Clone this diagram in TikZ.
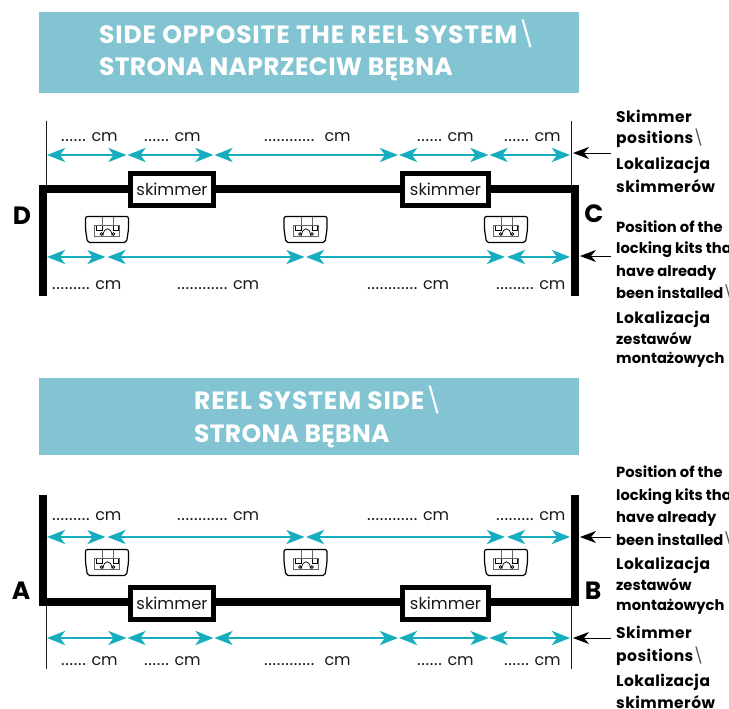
\documentclass[tikz,border=0pt]{standalone}
\usepackage{fontspec}
\setmainfont{Poppins}
\usetikzlibrary{arrows.meta}
\definecolor{banner}{HTML}{82C4D2}
\definecolor{teal}{HTML}{16AEBE}
\definecolor{ink}{HTML}{1A1A1A}
\newcommand{\slashmark}{{\mdseries\color{ink!75}\textbackslash}}
\newcommand{\slashwhite}{\hspace{1pt}{\mdseries\color{white}\textbackslash}}
\newcommand{\cmafter}[2][5.5pt]{{\addfontfeatures{LetterSpace=4}#2}\hspace{#1}{\fontsize{16}{16}\selectfont cm}}
\tikzset{
  x=1pt,y=-1pt,
  bannerbox/.style={fill=banner,draw=none,anchor=north west,inner sep=0pt},
  bannertext/.style={anchor=base west,inner sep=0pt,text=white,font=\fontsize{25}{25}\selectfont\bfseries\addfontfeatures{LetterSpace=3.4}},
  bannertight/.style={anchor=base west,inner sep=0pt,text=white,font=\fontsize{25}{25}\selectfont\bfseries\addfontfeatures{LetterSpace=1.2}},
  wall/.style={line width=8pt,line cap=butt,line join=miter,draw=black},
  tick/.style={line width=0.9pt,draw=ink},
  skim/.style={draw=black,line width=5pt,fill=white,minimum height=32pt,inner sep=0pt,font=\fontsize{16.4}{16}\selectfont,text=ink},
  dim/.style={teal,line width=2.8pt,{Stealth[length=18pt,width=14pt,inset=5pt]}-{Stealth[length=18pt,width=14pt,inset=5pt]}},
  pointer/.style={black,line width=0.9pt,-{Stealth[length=16pt,width=12pt,inset=5pt]}},
  measure/.style={anchor=base west,inner sep=0pt,text=ink,font=\fontsize{17}{17}\selectfont},
  note/.style={anchor=base west,inner sep=0pt,text=black,font=\fontsize{14.7}{15}\selectfont\bfseries},
  notewide/.style={anchor=base west,inner sep=0pt,text=black,font=\fontsize{15.5}{15}\selectfont\bfseries\addfontfeatures{LetterSpace=3}},
  corner/.style={anchor=base,inner sep=0pt,text=black,font=\fontsize{25}{25}\selectfont\bfseries},
  lockkit/.pic={
    \draw[black,line width=1.2pt,rounded corners=2pt] (0,0) -- (43,0) -- (43,13) -- (41,26) -- (2,26) -- (0,13) -- cycle;
    \draw[gray!80!black,line width=0.7pt] (9,9) rectangle (34,20);
    \draw[gray!80!black,line width=0.7pt] (17,0) -- (17,9) (28,0) -- (28,9);
    \draw[black,line width=0.7pt] (11,9) -- (11,14) -- (17,14) -- (17,9) (28,9) -- (28,14) -- (33,14) -- (33,9);
    \draw[black,line width=0.7pt] (17.5,19) .. controls (18,10) and (26,10) .. (26.5,19)
      (16,17.5) circle (1.4) (28,17.5) circle (1.4);
  }
}
\begin{document}
\begin{tikzpicture}
\useasboundingbox (0,0) rectangle (729,709);

% banners
\node[bannerbox,minimum width=540pt,minimum height=81pt] (bannerTop) at (39,12) {};
\node[bannerbox,minimum width=540pt,minimum height=77pt] (bannerBottom) at (39,378) {};
\node[bannertext] (titleTopA) at (99,44) {SIDE OPPOSITE THE REEL SYSTEM\slashwhite};
\node[bannertight] (titleTopB) at (99,76) {STRONA NAPRZECIW BĘBNA};
\node[bannertext] (titleBotA) at (194,409) {REEL SYSTEM SIDE\slashwhite};
\node[bannertight] (titleBotB) at (194,442) {STRONA BĘBNA};

% top plan: ticks, walls
\draw[tick] (46,121) coordinate (tickDtop) -- (46,186) coordinate (tickDbot);
\draw[tick] (571,121) coordinate (tickCtop) -- (571,186) coordinate (tickCbot);
\draw[wall] (43,296) coordinate (wallDend) -- (43,189) -- (575,189) -- (575,296) coordinate (wallCend);
\node[skim,minimum width=83pt] (skimTL) at (172,189.5) {skimmer};
\node[skim,minimum width=86pt] (skimTR) at (445.5,189.5) {skimmer};
\pic at (85.5,216.5) {lockkit};
\pic at (284,216.5) {lockkit};
\pic at (484.5,216.5) {lockkit};

% top dims
\coordinate (ua0) at (47,155);
\coordinate (ua1) at (126.5,155);
\coordinate (ua2) at (127.5,155);
\coordinate (ua3) at (213.5,155);
\coordinate (ua4) at (214.5,155);
\coordinate (ua5) at (398,155);
\coordinate (ua6) at (399,155);
\coordinate (ua7) at (488.5,155);
\coordinate (ua8) at (489.5,155);
\coordinate (ua9) at (570,155);
\draw[dim] (ua0) -- (ua1);
\draw[dim] (ua2) -- (ua3);
\draw[dim] (ua4) -- (ua5);
\draw[dim] (ua6) -- (ua7);
\draw[dim] (ua8) -- (ua9);
\coordinate (ub0) at (47,257);
\coordinate (ub1) at (105.5,257);
\coordinate (ub2) at (107.5,257);
\coordinate (ub3) at (304.5,257);
\coordinate (ub4) at (306,257);
\coordinate (ub5) at (505,257);
\coordinate (ub6) at (507,257);
\coordinate (ub7) at (570,257);
\draw[dim] (ub0) -- (ub1);
\draw[dim] (ub2) -- (ub3);
\draw[dim] (ub4) -- (ub5);
\draw[dim] (ub6) -- (ub7);

\node[measure] (m1) at (61,141) {\cmafter{......}};
\node[measure] (m2) at (144,141) {\cmafter{......}};
\node[measure] (m3) at (264,141) {\cmafter[10pt]{............}};
\node[measure] (m4) at (417,141) {\cmafter{......}};
\node[measure] (m5) at (504,141) {\cmafter{......}};
\node[measure] (m6) at (52,289) {\cmafter{.........}};
\node[measure] (m7) at (177,289) {\cmafter{............}};
\node[measure] (m8) at (367,289) {\cmafter{............}};
\node[measure] (m9) at (496,289) {\cmafter{.........}};

\node[corner] (cornerD) at (22,224) {D};
\node[corner] (cornerC) at (594,222) {C};

% bottom plan
\draw[tick] (46,605) coordinate (tickAtop) -- (46,669) coordinate (tickAbot);
\draw[tick] (571,605) coordinate (tickBtop) -- (571,669) coordinate (tickBbot);
\draw[wall] (43,495) coordinate (wallAend) -- (43,602) -- (575,602) -- (575,495) coordinate (wallBend);
\node[skim,minimum width=83pt] (skimBL) at (172,603.5) {skimmer};
\node[skim,minimum width=86pt] (skimBR) at (445.5,603.5) {skimmer};
\pic at (85.5,549.5) {lockkit};
\pic at (284,549.5) {lockkit};
\pic at (484.5,549.5) {lockkit};

\coordinate (la0) at (47,537);
\coordinate (la1) at (105.5,537);
\coordinate (la2) at (107.5,537);
\coordinate (la3) at (304.5,537);
\coordinate (la4) at (306,537);
\coordinate (la5) at (505,537);
\coordinate (la6) at (507,537);
\coordinate (la7) at (570,537);
\draw[dim] (la0) -- (la1);
\draw[dim] (la2) -- (la3);
\draw[dim] (la4) -- (la5);
\draw[dim] (la6) -- (la7);
\coordinate (lb0) at (47,638);
\coordinate (lb1) at (126.5,638);
\coordinate (lb2) at (127.5,638);
\coordinate (lb3) at (213.5,638);
\coordinate (lb4) at (214.5,638);
\coordinate (lb5) at (398,638);
\coordinate (lb6) at (399,638);
\coordinate (lb7) at (488.5,638);
\coordinate (lb8) at (489.5,638);
\coordinate (lb9) at (570,638);
\draw[dim] (lb0) -- (lb1);
\draw[dim] (lb2) -- (lb3);
\draw[dim] (lb4) -- (lb5);
\draw[dim] (lb6) -- (lb7);
\draw[dim] (lb8) -- (lb9);

\node[measure] (n1) at (52,520) {\cmafter{.........}};
\node[measure] (n2) at (177,520) {\cmafter{............}};
\node[measure] (n3) at (367,520) {\cmafter{............}};
\node[measure] (n4) at (496,520) {\cmafter{.........}};
\node[measure] (n5) at (61,665) {\cmafter{......}};
\node[measure] (n6) at (144,665) {\cmafter{......}};
\node[measure] (n7) at (264,665) {\cmafter[10pt]{............}};
\node[measure] (n8) at (417,665) {\cmafter{......}};
\node[measure] (n9) at (504,665) {\cmafter{......}};

\node[corner] (cornerA) at (21,599) {A};
\node[corner] (cornerB) at (593,599) {B};

% pointers
\coordinate (p1s) at (611,153); \coordinate (p1e) at (573,153);
\coordinate (p2s) at (611,256); \coordinate (p2e) at (580,256);
\coordinate (p3s) at (611,537); \coordinate (p3e) at (580,537);
\coordinate (p4s) at (611,638); \coordinate (p4e) at (573,638);
\draw[pointer] (p1s) -- (p1e);
\draw[pointer] (p2s) -- (p2e);
\draw[pointer] (p3s) -- (p3e);
\draw[pointer] (p4s) -- (p4e);

% notes, top
\node[notewide] (a1) at (616,122) {Skimmer};
\node[notewide] (a2) at (616,143) {positions\slashmark};
\node[notewide] (a3) at (616,169) {Lokalizacja};
\node[notewide] (a4) at (616,192) {skimmerów};
\node[note] (a5) at (616,232) {Position of the};
\node[note] (a6) at (616,253) {locking kits that};
\node[note] (a7) at (616,276) {have already};
\node[note] (a8) at (616,298) {been installed\slashmark};
\node[notewide] (a9) at (616,323) {Lokalizacja};
\node[note] (a10) at (616,344) {zestawów};
\node[note] (a11) at (616,363) {montażowych};
% notes, bottom
\node[note] (b1) at (616,477) {Position of the};
\node[note] (b2) at (616,500) {locking kits that};
\node[note] (b3) at (616,522) {have already};
\node[note] (b4) at (616,545) {been installed\slashmark};
\node[notewide] (b5) at (616,569) {Lokalizacja};
\node[note] (b6) at (616,590) {zestawów};
\node[note] (b7) at (616,610) {montażowych};
\node[notewide] (b8) at (616,638) {Skimmer};
\node[notewide] (b9) at (616,661) {positions\slashmark};
\node[notewide] (b10) at (616,686) {Lokalizacja};
\node[notewide] (b11) at (616,708) {skimmerów};
\end{tikzpicture}
\end{document}
